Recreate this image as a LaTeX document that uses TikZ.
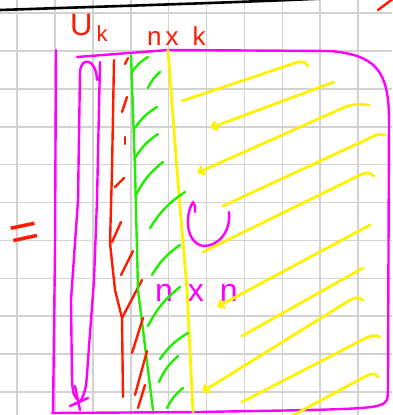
\documentclass[tikz,border=0pt]{standalone}
\usepackage{fontspec}
\setsansfont{Liberation Sans}
\usetikzlibrary{arrows.meta}
\definecolor{inkred}{HTML}{FF1A00}
\definecolor{inkgreen}{HTML}{22EE00}
\definecolor{inkyellow}{HTML}{FFF200}
\definecolor{inkpink}{HTML}{FF00FF}
\definecolor{gridgray}{HTML}{D2D2D2}

\begin{document}
\begin{tikzpicture}[
      x=1pt, y=-1pt,
      every node/.style={font=\sffamily, inner sep=0pt},
      gridline/.style={gridgray, line width=1.6pt},
      blackink/.style={black, line width=2.6pt, line cap=round},
      redink/.style={inkred, line width=2.4pt, line cap=round, line join=round},
      greenink/.style={inkgreen, line width=2.4pt, line cap=round, line join=round},
      yellowink/.style={inkyellow, line width=2.8pt, line cap=round, line join=round},
      pinkink/.style={inkpink, line width=2.4pt, line cap=round, line join=round},
      >={Straight Barb[length=5pt, width=9pt]},
    ]
    \useasboundingbox[fill=white] (0,0) rectangle (392,415);

    % Grid paper
    \foreach \i in {0,...,9}
      \draw[gridline] ({17+37.9*\i},0) -- ({17+37.9*\i},415);
    \foreach \j in {0,...,10}
      \draw[gridline] (0,{13+37.9*\j}) -- (392,{13+37.9*\j});

    % Strokes at the top edge
    \draw[blackink] (0,10) .. controls (120,6) and (250,2) .. (335,-2);
    \draw[redink] (378,10) -- (394,-2);

    % Labels
    \node[text=inkred, anchor=base west, font=\sffamily\fontsize{31}{31}\selectfont] (uk) at (70,35)
      {U\hspace{4pt}\raisebox{-6pt}{\fontsize{22}{22}\selectfont k}};
    \node[text=inkred, anchor=base west, font=\sffamily\fontsize{26}{26}\selectfont] (nxk) at (147,45)
      {n\hspace{4pt}x\hspace{14pt}k};
    \node[text=inkred, rotate=12, font=\sffamily\fontsize{50}{50}\selectfont] (eq) at (25,236) {=};
    \node[text=inkpink, anchor=base west, font=\sffamily\fontsize{32}{32}\selectfont] (nxn) at (155,301)
      {n\hspace{15pt}x\hspace{16pt}n};

    % Outer frame
    \draw[pinkink] (56,50) -- (55,250) -- (53,413);
    \draw[pinkink] (52,413) -- (200,412) .. controls (300,410) and (370,410) .. (380,405)
      .. controls (388,402) .. (388,380) -- (389,120) .. controls (389,70) and (375,55) .. (330,51)
      -- (168,50) -- (77,57);

    % Narrow loop on the left
    \draw[pinkink] (97,80) .. controls (96,58) and (81,56) .. (80,72) -- (78,200) -- (71,300)
      -- (72,380) .. controls (73,395) .. (80,402) .. controls (86,390) .. (88,360)
      -- (94,280) -- (97,200) -- (100,62);
    \draw[pinkink] (75,386) -- (80,410);
    \draw[pinkink] (70,406) -- (88,398);

    % Turn mark
    \draw[pinkink] (195,212) .. controls (195,205) .. (193,202) .. controls (185,215) and (185,242) .. (203,246)
      .. controls (220,246) and (231,230) .. (229,212);

    % Columns
    \draw[redink] (114,60) -- (112,170) -- (110,243) -- (115,290) -- (122,318) -- (123,397);
    \draw[redink] (122,318) -- (142,280);
    \draw[greenink] (131,55) -- (135,170) -- (138,290) -- (153,410);
    \draw[yellowink] (168,50) -- (177,170) -- (187,290) -- (193,412);

    % Hatching
    \foreach \xa/\ya/\xb/\yb in {125/64/128/58, 122/112/127/97, 125/144/125/137, 115/187/124/178,
        112/242/121/222, 121/275/133/251, 132/353/143/318, 135/395/147/351, 138/408/145/385}
      \draw[redink] (\xa,\ya) -- (\xb,\yb);
    \foreach \xa/\ya/\xb/\yb in {132/72/148/57, 148/88/160/72, 135/128/157/107, 135/158/158/134,
        136/195/163/162, 150/228/185/192, 152/275/180/245, 148/326/180/287, 160/359/188/333,
        159/382/178/356, 167/408/183/388}
      \draw[greenink] (\xa,\ya) to[bend left=12] (\xb,\yb);

    % Sweeps towards the columns
    \draw[yellowink] (308,66) .. controls (305,62) .. (298,62) -- (182,101);
    \draw[yellowink, ->] (334,82) -- (210,128);
    \draw[yellowink, ->] (369,105) .. controls (355,104) .. (345,107) -- (197,173);
    \draw[yellowink] (385,135) .. controls (378,134) .. (372,137) -- (223,206);
    \draw[yellowink] (374,176) .. controls (368,172) .. (360,175) -- (203,252);
    \draw[yellowink, ->] (370,225) -- (217,307);
    \draw[yellowink] (363,268) -- (242,336);
    \draw[yellowink, ->] (363,300) .. controls (358,297) .. (350,300) -- (202,392);
    \draw[yellowink] (380,337) .. controls (374,335) .. (366,338) -- (242,402);
    \draw[yellowink] (378,377) .. controls (374,373) .. (366,376) -- (290,417);
  \end{tikzpicture}
\end{document}
